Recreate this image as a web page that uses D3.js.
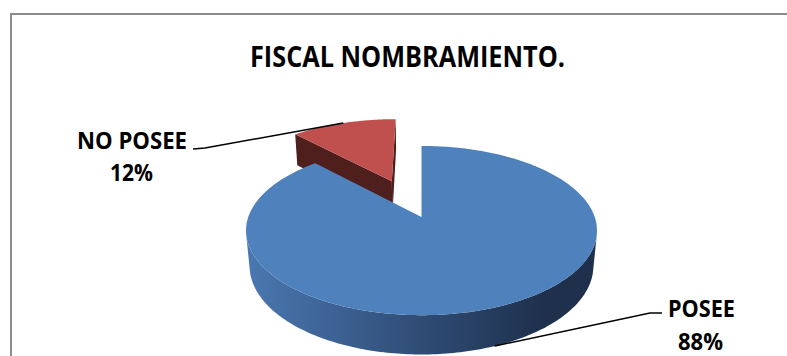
<!DOCTYPE html>
<html>
<head>
<meta charset="utf-8">
<script src="https://cdn.jsdelivr.net/npm/d3@7"></script>
<style>
  html, body { margin: 0; padding: 0; background: #ffffff; }
  svg { display: block; }
</style>
</head>
<body>
<svg id="chart" width="787" height="356"></svg>
<script>
// ---- data ----
const chartTitle = "FISCAL NOMBRAMIENTO.";
const categories = ["POSEE", "NO POSEE"];
const values = [88, 12];
const explodeFraction = [0, 0.5];   // radial offset of each slice, in radii

// ---- styles ----
const topColors   = ["#4F81BD", "#C0504D"];
const sideLight   = ["#4A78B1", "#9A403D"];
const sideMid     = ["#2F4C75", "#6E2B29"];
const sideDark    = ["#1E304C", "#4A1C1B"];
const cutColors   = ["#2B4669", "#4F1F1E"];

const W = 787, H = 356;
const svg = d3.select("#chart");
svg.append("rect").attr("width", W).attr("height", H).attr("fill", "#ffffff");

// chart area frame (runs off the right and bottom edges)
svg.append("rect")
  .attr("x", 11).attr("y", 14)
  .attr("width", W + 20).attr("height", H + 20)
  .attr("fill", "none")
  .attr("stroke", "#8c8c8c")
  .attr("stroke-width", 2);

// ---- perspective camera for the 3-D pie (unit radius) ----
const cx = 421.5, cy = 217;
const focal = 951;          // px per unit at distance 1
const dist = 5.49;          // camera distance, in radii
const tilt = Math.asin(0.476);
const thick = 0.235;        // pie thickness, in radii
const sinT = Math.sin(tilt), cosT = Math.cos(tilt);
const cam = [0, dist * sinT, -dist * cosT];

function project(X, Y, Z) {
  const dep = dist + Z * cosT - Y * sinT;
  const up = Y * cosT + Z * sinT;
  return [cx + focal * X / dep, cy - focal * up / dep];
}
function depthOf(X, Y, Z) { return dist + Z * cosT - Y * sinT; }
function facesCamera(normal, p) {
  return normal[0] * (cam[0] - p[0]) + normal[1] * (cam[1] - p[1]) + normal[2] * (cam[2] - p[2]) > 0;
}

const total = d3.sum(values);
const pie = d3.pie().sort(null).value(d => d);
const arcs = pie(values).map((a, i) => {
  const mid = (a.startAngle + a.endAngle) / 2;
  const e = explodeFraction[i];
  return {
    i, a0: a.startAngle, a1: a.endAngle, mid,
    ox: e * Math.sin(mid), oz: e * Math.cos(mid)
  };
});

const line = d3.line();
const defs = svg.append("defs");

function rimPoint(s, a, Y) { return project(s.ox + Math.sin(a), Y, s.oz + Math.cos(a)); }
function centerPoint(s, Y) { return project(s.ox, Y, s.oz); }
function angleSteps(a0, a1) {
  const n = Math.max(2, Math.ceil((a1 - a0) / (Math.PI / 180)));
  return d3.range(n + 1).map(k => a0 + (a1 - a0) * k / n);
}

// far slices first
const order = arcs.slice().sort((p, q) =>
  depthOf(q.ox + 0.5 * Math.sin(q.mid), 0, q.oz + 0.5 * Math.cos(q.mid)) -
  depthOf(p.ox + 0.5 * Math.sin(p.mid), 0, p.oz + 0.5 * Math.cos(p.mid)));

const g = svg.append("g");

order.forEach(s => {
  const i = s.i;

  // radial cut faces
  [[s.a0, [-Math.cos(s.a0), 0, Math.sin(s.a0)]],
   [s.a1, [Math.cos(s.a1), 0, -Math.sin(s.a1)]]].forEach(([a, n]) => {
    const pMid = [s.ox + 0.5 * Math.sin(a), -thick / 2, s.oz + 0.5 * Math.cos(a)];
    if (!facesCamera(n, pMid)) return;
    const pts = [centerPoint(s, 0), rimPoint(s, a, 0), rimPoint(s, a, -thick), centerPoint(s, -thick)];
    g.append("path").attr("d", line(pts) + "Z").attr("fill", cutColors[i]);
  });

  // outer curved side, visible part only
  const vis = angleSteps(s.a0, s.a1).filter(a => {
    const n = [Math.sin(a), 0, Math.cos(a)];
    const p = [s.ox + Math.sin(a), -thick / 2, s.oz + Math.cos(a)];
    return facesCamera(n, p);
  });
  if (vis.length > 1) {
    const topArc = vis.map(a => rimPoint(s, a, 0));
    const botArc = vis.slice().reverse().map(a => rimPoint(s, a, -thick));
    const pts = topArc.concat(botArc);
    const xs = pts.map(p => p[0]);
    const gid = "side" + i;
    const grad = defs.append("linearGradient").attr("id", gid)
      .attr("gradientUnits", "userSpaceOnUse")
      .attr("x1", d3.min(xs)).attr("x2", d3.max(xs)).attr("y1", 0).attr("y2", 0);
    grad.append("stop").attr("offset", 0).attr("stop-color", sideLight[i]);
    grad.append("stop").attr("offset", 0.5).attr("stop-color", sideMid[i]);
    grad.append("stop").attr("offset", 0.85).attr("stop-color", sideDark[i]);
    grad.append("stop").attr("offset", 1).attr("stop-color", sideDark[i]);
    g.append("path").attr("d", line(pts) + "Z").attr("fill", `url(#${gid})`);
  }

  // top face
  const topPts = [centerPoint(s, 0)].concat(angleSteps(s.a0, s.a1).map(a => rimPoint(s, a, 0)));
  g.append("path").attr("d", line(topPts) + "Z").attr("fill", topColors[i]);
});

// ---- title ----
const font = "'Open Sans', 'DejaVu Sans', sans-serif";
svg.append("text")
  .attr("x", 250).attr("y", 67)
  .attr("font-family", font).attr("font-weight", 700).attr("font-size", 28)
  .attr("textLength", 315).attr("lengthAdjust", "spacingAndGlyphs")
  .attr("fill", "#000").text(chartTitle);

// ---- data labels with leader lines ----
const labelLayout = [
  { nameX: 668, nameY: 317, nameW: 67, pctX: 678, pctY: 350, pctW: 45,
    knees: [[662, 313], [650, 313]], rimY: -thick },
  { nameX: 77, nameY: 149, nameW: 110, pctX: 110, pctY: 181, pctW: 43,
    knees: [[193, 149], [205, 148]], rimY: 0 }
];

arcs.forEach(s => {
  const L = labelLayout[s.i];
  const end = rimPoint(s, s.mid, L.rimY);
  g.append("path")
    .attr("d", line(L.knees.concat([end])))
    .attr("fill", "none").attr("stroke", "#000").attr("stroke-width", 1.5);
  svg.append("text")
    .attr("x", L.nameX).attr("y", L.nameY)
    .attr("font-family", font).attr("font-weight", 700).attr("font-size", 23)
    .attr("textLength", L.nameW).attr("lengthAdjust", "spacingAndGlyphs")
    .attr("fill", "#000").text(categories[s.i]);
  svg.append("text")
    .attr("x", L.pctX).attr("y", L.pctY)
    .attr("font-family", font).attr("font-weight", 700).attr("font-size", 23)
    .attr("textLength", L.pctW).attr("lengthAdjust", "spacingAndGlyphs")
    .attr("fill", "#000").text(Math.round(values[s.i] / total * 100) + "%");
});
</script>
</body>
</html>
